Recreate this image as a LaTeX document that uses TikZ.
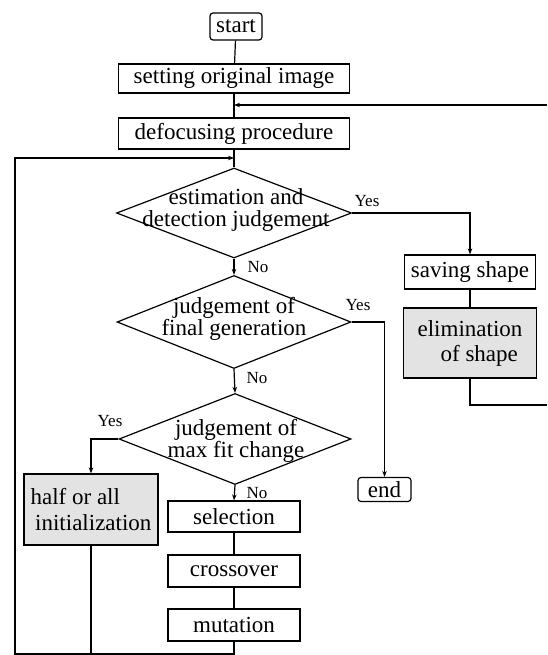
\documentclass[tikz,border=0pt]{standalone}
\usepackage{fontspec}
\setmainfont{Liberation Serif}
\usetikzlibrary{shapes.geometric,arrows.meta}
\begin{document}
\begin{tikzpicture}[x=1pt,y=-1pt,
  ln/.style={line width=1.2pt},
  arr/.style={-{Stealth[length=6pt,width=4.5pt]}},
  box/.style={draw,line width=1.2pt,inner sep=0pt,font=\fontsize{23}{24}\selectfont},
  rbox/.style={box,rounded corners=3pt},
  sbox/.style={box,fill=gray!22,align=left},
  dia/.style={draw,line width=1.2pt,shape=diamond,inner sep=0pt,shape aspect=2.5},
  dtext/.style={align=center,inner sep=0pt,font=\fontsize{23}{22}\selectfont},
  lab/.style={inner sep=0pt,font=\fontsize{17}{18}\selectfont}]
\useasboundingbox (0,0) rectangle (547,655);

% boxes
\node[rbox,minimum width=52pt,minimum height=27pt] (start) at (236,26.5) {start};
\node[box,minimum width=231pt,minimum height=29pt] (set) at (234,78.5) {setting original image};
\node[box,minimum width=231pt,minimum height=31pt] (def) at (234,133.5) {defocusing procedure};
\node[box,minimum width=131pt,minimum height=34pt] (save) at (470,272) {saving shape};
\node[sbox,minimum width=133pt,minimum height=70pt] (elim) at (470,343) {elimination\\[1pt]\hspace*{1em}of shape};
\node[rbox,minimum width=53pt,minimum height=24pt] (end) at (384.5,489.5) {end};
\node[sbox,minimum width=134pt,minimum height=71pt] (half) at (91,509.5) {half or all\\[2pt]\hspace*{0.2em}initialization};
\node[box,minimum width=132pt,minimum height=31pt] (sel) at (234,516.5) {selection};
\node[box,minimum width=132pt,minimum height=32pt] (cross) at (234,571) {crossover};
\node[box,minimum width=132pt,minimum height=32pt] (mut) at (234,625) {mutation};

% diamonds
\node[dia,minimum width=235pt,minimum height=90pt] (d1) at (234,213) {};
\node[dtext] (d1t) at (236,210) {estimation and\\detection judgement};
\node[dia,minimum width=234pt,minimum height=93pt] (d2) at (234,322) {};
\node[dtext] (d2t) at (234,319) {judgement of\\final generation};
\node[dia,minimum width=232pt,minimum height=91pt] (d3) at (235,439) {};
\node[dtext] (d3t) at (236,441) {judgement of\\max fit change};

% labels
\node[lab] (y1) at (367,201) {Yes};
\node[lab] (y2) at (358,305) {Yes};
\node[lab] (y3) at (110,421) {Yes};
\node[lab] (n1) at (258,267) {No};
\node[lab] (n2) at (257,378) {No};
\node[lab] (n3) at (257,493) {No};

% coordinates
\coordinate (j1) at (234,105);
\coordinate (rt) at (547,105);
\coordinate (rb) at (547,405);
\coordinate (j2) at (234,158);
\coordinate (bl) at (15,654);

% connectors
\draw[ln] (start) -- (set);
\draw[ln] (set) -- (def);
\draw[ln,arr] (rt) -- (j1);
\draw[ln] (def) -- (d1);
\draw[ln,arr] (mut.south) -- (mut.south |- bl) -- (bl) -- (bl |- j2) -- (j2);
\draw[ln] (half.south) -- (half.south |- bl);
\draw[ln,arr] (d1.east) -| (save.north);
\draw[ln] (save) -- (elim);
\draw[ln] (elim.south) |- (rb);
\draw[ln,arr] (d1.south) -- (d2.north);
\draw[ln,arr] (d2.east) -| (end.north);
\draw[ln,arr] (d2.south) -- (d3.north);
\draw[ln,arr] (d3.west) -| (half.north);
\draw[ln,arr] (d3.south) -- (sel.north);
\draw[ln] (sel) -- (cross);
\draw[ln] (cross) -- (mut);
\end{tikzpicture}
\end{document}
